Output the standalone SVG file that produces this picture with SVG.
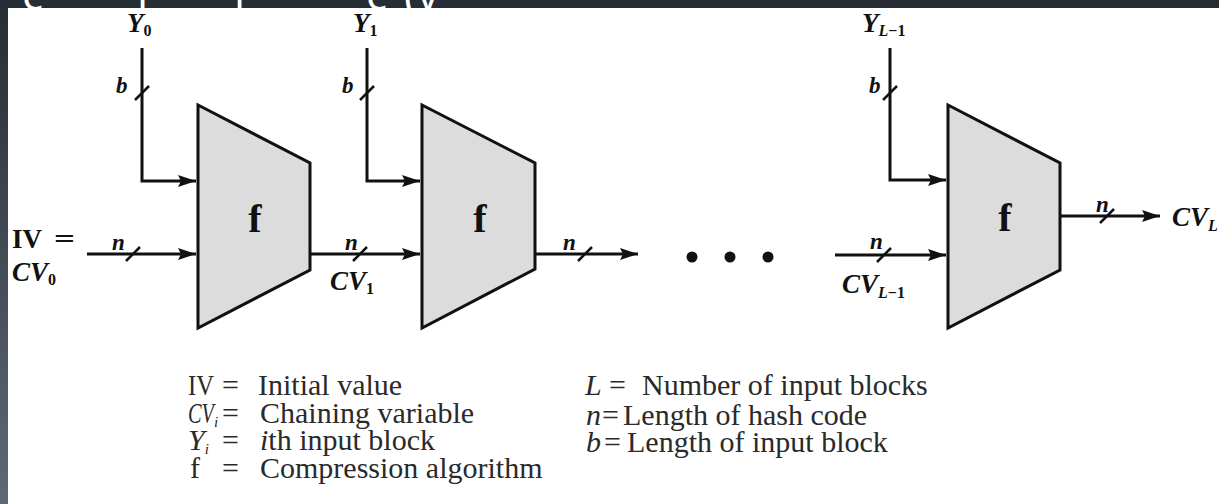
<svg xmlns="http://www.w3.org/2000/svg" width="1219" height="504" viewBox="0 0 1219 504">
  <defs>
    <linearGradient id="side" x1="0" y1="0" x2="0" y2="1">
      <stop offset="0" stop-color="#272d35"/>
      <stop offset="1" stop-color="#5e6974"/>
    </linearGradient>
    <marker id="arr" markerUnits="userSpaceOnUse" markerWidth="18" markerHeight="12" refX="18" refY="6" orient="auto">
      <path d="M0,0 L18,6 L0,12 L3,6 z" fill="#111"/>
    </marker>
    <style>
      .line{fill:none;stroke:#111;stroke-width:3}
      .tick{stroke:#111;stroke-width:2.5;fill:none}
      .trap{fill:#dcdcdc;stroke:#111;stroke-width:3;stroke-linejoin:miter}
      .fl{font-family:"Liberation Serif",serif;font-weight:bold;font-size:40px;fill:#111;text-anchor:middle}
      .var{font-family:"Liberation Serif",serif;font-weight:bold;font-style:italic;font-size:27px;fill:#111}
      .sub{font-style:normal;font-size:16px}
      .subi{font-size:16px}
      .sm{font-family:"Liberation Serif",serif;font-weight:bold;font-style:italic;font-size:23px;fill:#111}
      .bu{font-family:"Liberation Serif",serif;font-weight:bold;font-size:27px;fill:#111}
      .leg{font-family:"Liberation Serif",serif;font-size:30px;fill:#2a2a2a}
      .title{font-family:"Open Sans",sans-serif;font-size:44px;fill:#ffffff}
    </style>
  </defs>

  <!-- background frame -->
  <rect x="0" y="0" width="1219" height="504" fill="#272d35"/>
  <rect x="0" y="0" width="8" height="504" fill="url(#side)"/>
  <g id="title-fragments">
    <text class="title" x="22" y="10">c</text>
    <text class="title" x="137" y="10">l</text>
    <text class="title" x="234" y="10">l</text>
    <text class="title" x="366" y="10">c</text>
    <text class="title" x="404" y="10">(v</text>
  </g>
  <rect x="8" y="8" width="1211" height="496" fill="#ffffff"/>

  <!-- nodes -->
  <g id="f1">
    <polygon class="trap" points="198,105 310,163 310,270 198,328"/>
    <text class="fl" x="255" y="232">f</text>
  </g>
  <g id="f2">
    <polygon class="trap" points="422,105 535,163 535,269 422,328"/>
    <text class="fl" x="480" y="232">f</text>
  </g>
  <g id="f3">
    <polygon class="trap" points="948,105 1060,163 1060,270 948,328"/>
    <text class="fl" x="1005" y="231">f</text>
  </g>
  <g id="dots">
    <circle cx="692" cy="257" r="5.5" fill="#111"/>
    <circle cx="730" cy="257" r="5.5" fill="#111"/>
    <circle cx="768" cy="257" r="5.5" fill="#111"/>
  </g>

  <!-- connectors -->
  <g id="connectors">
    <path class="line" d="M87,254 H196" marker-end="url(#arr)"/>
    <path class="line" d="M142,48 V181 H196" marker-end="url(#arr)"/>
    <path class="line" d="M310,254 H420" marker-end="url(#arr)"/>
    <path class="line" d="M367,48 V181 H420" marker-end="url(#arr)"/>
    <path class="line" d="M535,254 H638" marker-end="url(#arr)"/>
    <path class="line" d="M835,255 H946" marker-end="url(#arr)"/>
    <path class="line" d="M890,48 V180 H946" marker-end="url(#arr)"/>
    <path class="line" d="M1060,216 H1160" marker-end="url(#arr)"/>
    <!-- bus ticks -->
    <line class="tick" x1="126" y1="261" x2="140" y2="247"/>
    <line class="tick" x1="353" y1="261" x2="367" y2="247"/>
    <line class="tick" x1="578" y1="261" x2="592" y2="247"/>
    <line class="tick" x1="877" y1="262" x2="891" y2="248"/>
    <line class="tick" x1="1100" y1="223" x2="1114" y2="209"/>
    <line class="tick" x1="135" y1="100" x2="149" y2="86"/>
    <line class="tick" x1="360" y1="100" x2="374" y2="86"/>
    <line class="tick" x1="883" y1="100" x2="897" y2="86"/>
  </g>

  <!-- labels -->
  <g id="labels">
    <text class="var" x="127" y="32">Y<tspan class="sub" dy="4">0</tspan></text>
    <text class="var" x="353" y="32">Y<tspan class="sub" dy="4">1</tspan></text>
    <text class="var" x="862" y="32">Y<tspan class="subi" dy="4">L</tspan><tspan class="sub">−1</tspan></text>
    <text class="sm" x="116" y="93">b</text>
    <text class="sm" x="342" y="93">b</text>
    <text class="sm" x="869" y="93">b</text>
    <text class="sm" x="112" y="250">n</text>
    <text class="sm" x="345" y="250">n</text>
    <text class="sm" x="563" y="250">n</text>
    <text class="sm" x="870" y="249">n</text>
    <text class="sm" x="1096" y="212">n</text>
    <text class="bu" x="12" y="248">IV</text>
    <text class="bu" x="54" y="248" textLength="21" lengthAdjust="spacingAndGlyphs">=</text>
    <text class="var" x="12" y="281">CV<tspan class="sub" dy="4">0</tspan></text>
    <text class="var" x="330" y="290">CV<tspan class="sub" dy="4">1</tspan></text>
    <text class="var" x="842" y="293">CV<tspan class="subi" dy="5">L</tspan><tspan class="sub">−1</tspan></text>
    <text class="var" x="1172" y="226">CV<tspan class="subi" dy="5">L</tspan></text>
  </g>

  <!-- legend -->
  <g id="legend">
    <text class="leg" x="188" y="395" textLength="26" lengthAdjust="spacingAndGlyphs">IV</text>
    <text class="leg" x="222" y="395">=</text>
    <text class="leg" x="258" y="395">Initial value</text>
    <text class="leg" x="188" y="423"><tspan font-style="italic" textLength="26" lengthAdjust="spacingAndGlyphs">CV</tspan><tspan font-style="italic" font-size="15" dy="4">i</tspan></text>
    <text class="leg" x="222" y="423">=</text>
    <text class="leg" x="260" y="423">Chaining variable</text>
    <text class="leg" x="188" y="450"><tspan font-style="italic">Y</tspan><tspan font-style="italic" font-size="15" dy="4">i</tspan></text>
    <text class="leg" x="222" y="450">=</text>
    <text class="leg" x="260" y="450"><tspan font-style="italic">i</tspan>th input block</text>
    <text class="leg" x="190" y="478">f</text>
    <text class="leg" x="222" y="478">=</text>
    <text class="leg" x="260" y="478">Compression algorithm</text>

    <text class="leg" x="585" y="395"><tspan font-style="italic">L</tspan></text>
    <text class="leg" x="609" y="395">=</text>
    <text class="leg" x="642" y="395">Number of input blocks</text>
    <text class="leg" x="586" y="425"><tspan font-style="italic">n</tspan></text>
    <text class="leg" x="602" y="425">=</text>
    <text class="leg" x="623" y="425">Length of hash code</text>
    <text class="leg" x="586" y="452"><tspan font-style="italic">b</tspan></text>
    <text class="leg" x="604" y="452">=</text>
    <text class="leg" x="627" y="452">Length of input block</text>
  </g>
</svg>
